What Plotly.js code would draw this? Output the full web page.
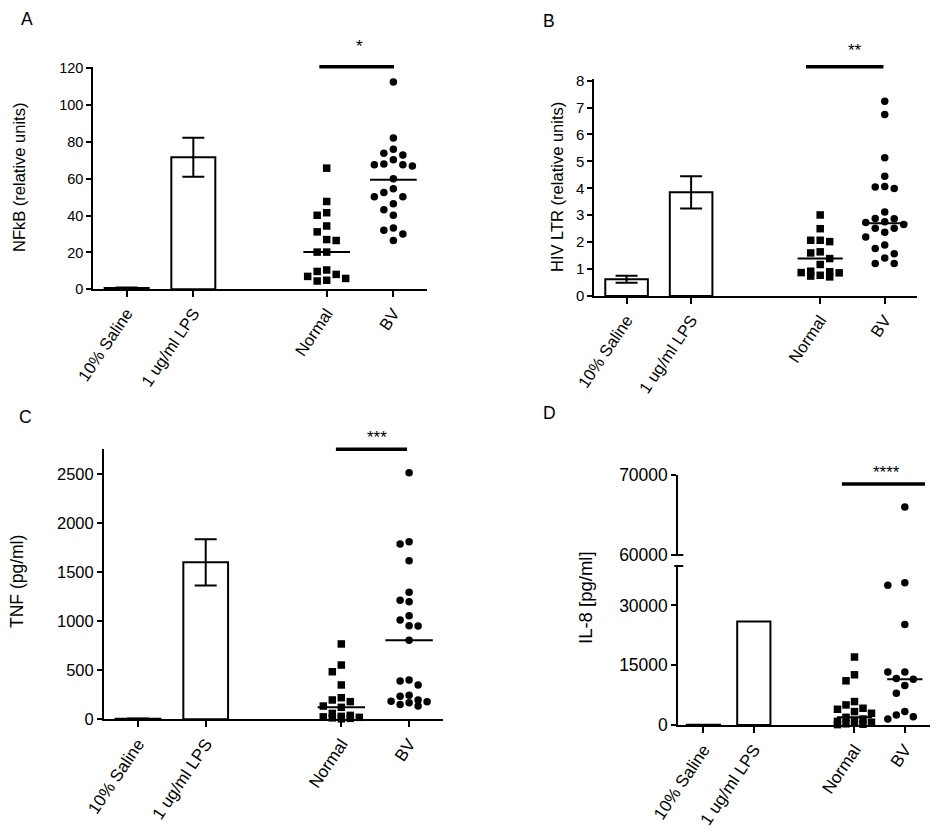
<!DOCTYPE html>
<html><head><meta charset="utf-8">
<script src="https://cdn.plot.ly/plotly-3.0.1.min.js"></script>
<style>html,body{margin:0;padding:0;background:#fff}</style>
</head><body><div id="chart" style="width:951px;height:832px"></div>
<script>
// ---------- DATA ----------
const categories = ['10% Saline', '1 ug/ml LPS', 'Normal', 'BV'];

// A: NFkB (relative units)
const nfkbBars = [0.7, 71.7];
const nfkbSem = [0.3, 10.6];
const nfkbNormal = [65.8, 47.7, 41.6, 40.2, 34.4, 31.2, 27.0, 26.5, 20.2, 20.2, 10.5, 9.7, 8.1, 7.0, 5.9, 4.9, 4.5];
const nfkbBV = [112.6, 82.2, 76.0, 73.9, 73.0, 70.3, 68.0, 67.6, 67.6, 67.0, 60.0, 54.6, 52.6, 50.3, 50.3, 46.5, 43.2, 40.2, 33.3, 32.1, 30.1, 26.5];
const nfkbMedians = [20.2, 59.5];

// B: HIV LTR (relative units)
const hivBars = [0.62, 3.85];
const hivSem = [0.13, 0.6];
const hivNormal = [3.01, 2.50, 2.07, 2.02, 2.07, 1.64, 1.60, 1.39, 1.17, 0.92, 0.90, 0.87, 0.86, 0.77, 0.74, 0.71];
const hivBV = [7.23, 6.74, 5.14, 4.45, 4.07, 4.05, 3.99, 3.12, 2.88, 2.87, 2.76, 2.73, 2.66, 2.52, 2.52, 2.37, 2.19, 1.89, 1.76, 1.57, 1.41, 1.21, 1.21];
const hivMedians = [1.39, 2.70];

// C: TNF (pg/ml)
const tnfBars = [5, 1600];
const tnfSem = [2, 235];
const tnfNormal = [768, 553, 485, 350, 220, 197, 180, 135, 122, 60, 40, 30, 25, 20, 15, 10, 5];
const tnfBV = [2514, 1810, 1787, 1617, 1295, 1213, 1199, 1056, 1012, 954, 950, 805, 401, 390, 350, 245, 235, 197, 185, 179, 169, 150, 136];
const tnfMedians = [122, 805];

// D: IL-8 [pg/ml]
const il8Bars = [50, 25960];
const il8Normal = [17060, 12600, 11090, 5880, 5040, 4200, 3950, 3360, 2940, 1930, 1500, 900, 800, 700, 300, 200, 100];
const il8BV = [66000, 35700, 35100, 25200, 13280, 13280, 11700, 11500, 9900, 7980, 3360, 2520, 2100, 1510];
const il8Medians = [1930, 11500];

const significance = ['*', '**', '***', '****'];
const panelLetters = ['A', 'B', 'C', 'D'];
const yTitles = ['NFkB (relative units)', 'HIV LTR (relative units)', 'TNF (pg/ml)', 'IL-8 [pg/ml]'];

// ---------- LAYOUT HELPERS ----------
const W = 951, H = 832;
const FONT = 'Liberation Sans, Arial, Helvetica, sans-serif';
const fx = p => p / W, fy = p => 1 - p / H;
const catPos = [0, 1, 3, 4];

// column-scatter layout: offsets limited to +-2 steps; overlap allowed when crowded
function swarm(vals, center, pxX, toPx, step, diam) {
  const order = vals.map((v, i) => i).sort((a, b) => vals[b] - vals[a]);
  const placed = [], xs = [];
  const cands = [0, -1, 1, -2, 2].map(k => k * step);
  order.forEach(i => {
    const yp = toPx(vals[i]);
    let best = null, bestD = -1;
    for (const off of cands) {
      const d = placed.length ? Math.min(...placed.map(q => Math.hypot(q.x - off, q.y - yp))) : Infinity;
      if (d >= diam) { best = off; break; }
      if (d > bestD) { bestD = d; best = off; }
    }
    placed.push({x: best, y: yp}); xs[i] = center + best / pxX;
  });
  return xs;
}

const panels = [
  {xa: 'x', ya: 'y', xPx: [93.3, 426.7], yPx: [66.7, 289.3], yRange: [0, 120.9], yTicks: [0, 20, 40, 60, 80, 100, 120],
   bars: nfkbBars, sem: nfkbSem, normal: nfkbNormal, bv: nfkbBV, med: nfkbMedians,
   tickSize: 14.5, labSize: 16.5, step: 9.5, diam: 9,
   sig: [2.89, 4.01], sigY: 66.7, star: [359, 46], letter: [27, 19], title: [19, 178], titleSize: 16.5},
  {xa: 'x2', ya: 'y2', xPx: [594.3, 917], yPx: [79.3, 296], yRange: [0, 8.05], yTicks: [0, 1, 2, 3, 4, 5, 6, 7, 8],
   bars: hivBars, sem: hivSem, normal: hivNormal, bv: hivBV, med: hivMedians,
   tickSize: 15, labSize: 16.5, step: 9.5, diam: 9,
   sig: [2.78, 3.98], sigY: 66.7, star: [855, 51], letter: [549, 21], title: [557, 187], titleSize: 16.5},
  {xa: 'x3', ya: 'y3', xPx: [104, 443], yPx: [449.3, 719.3], yRange: [0, 2752], yTicks: [0, 500, 1000, 1500, 2000, 2500],
   bars: tnfBars, sem: tnfSem, normal: tnfNormal, bv: tnfBV, med: tnfMedians,
   tickSize: 16.5, labSize: 17, step: 9, diam: 9,
   sig: [2.92, 3.97], sigY: 449.3, star: [377, 437], letter: [25, 417], title: [17, 582], titleSize: 17.5},
  {xa: 'x4', ya: 'y4', xPx: [678.3, 930], yPx: [566, 725], yRange: [0, 39900], yTicks: [0, 15000, 30000],
   bars: il8Bars, sem: null, normal: il8Normal, bv: il8BV, med: il8Medians,
   tickSize: 17.5, labSize: 17, step: 8.5, diam: 9,
   sig: [2.75, 4.40], sigY: 484, star: [886, 472], letter: [549, 413], title: [585, 598], titleSize: 18.5,
   upper: {ya: 'y5', yPx: [475, 555], yRange: [60000, 70000], yTicks: [60000, 70000]}}
];

const traces = [];
const layout = {
  width: W, height: H, autosize: false,
  margin: {l: 0, r: 0, t: 0, b: 0, pad: 0},
  paper_bgcolor: '#fff', plot_bgcolor: 'rgba(0,0,0,0)',
  showlegend: false, font: {family: FONT, color: '#000'},
  annotations: [], shapes: []
};

panels.forEach((p, pi) => {
  const xNum = p.xa === 'x' ? '' : p.xa.slice(1);
  const yNum = p.ya === 'y' ? '' : p.ya.slice(1);
  const xPxPerUnit = (p.xPx[1] - p.xPx[0]) / 5;
  const yPxPerUnit = (p.yPx[1] - p.yPx[0]) / (p.yRange[1] - p.yRange[0]);
  let toPx = v => v * yPxPerUnit;
  if (p.upper) {
    const upPer = (p.upper.yPx[1] - p.upper.yPx[0]) / (p.upper.yRange[1] - p.upper.yRange[0]);
    toPx = v => v <= p.yRange[1] ? v * yPxPerUnit : (p.yPx[1] - p.upper.yPx[1]) + (v - p.upper.yRange[0]) * upPer;
  }

  layout['xaxis' + xNum] = {
    domain: [fx(p.xPx[0]), fx(p.xPx[1])], range: [-0.5, 4.5], anchor: p.ya,
    tickmode: 'array', tickvals: catPos, ticktext: categories, tickangle: -56,
    ticks: 'outside', ticklen: 6, tickwidth: 2, tickcolor: '#000',
    showline: true, linewidth: 2, linecolor: '#000', showgrid: false, zeroline: false,
    tickfont: {family: FONT, size: p.labSize, color: '#000'}, fixedrange: true
  };
  const yax = (dom, range, ticks, anchor) => ({
    domain: dom, range: range, anchor: anchor,
    tickmode: 'array', tickvals: ticks, tickformat: 'd',
    ticks: 'outside', ticklen: 5, tickwidth: 2, tickcolor: '#000',
    showline: true, linewidth: 2, linecolor: '#000', showgrid: false, zeroline: false,
    tickfont: {family: FONT, size: p.tickSize, color: '#000'}, fixedrange: true
  });
  layout['yaxis' + yNum] = yax([fy(p.yPx[1]), fy(p.yPx[0])], p.yRange, p.yTicks, p.xa);

  // bars
  const bar = {
    type: 'bar', x: catPos.slice(0, 2), y: p.bars, xaxis: p.xa, yaxis: p.ya, width: 0.66,
    marker: {color: '#fff', line: {color: '#000', width: 2}}, hoverinfo: 'skip'
  };
  if (p.sem) bar.error_y = {type: 'data', array: p.sem, visible: true, color: '#000', thickness: 2, width: 11};
  traces.push(bar);

  // scatter groups
  const groups = [{vals: p.normal, c: catPos[2], sym: 'square'}, {vals: p.bv, c: catPos[3], sym: 'circle'}];
  groups.forEach(g => {
    const xs = swarm(g.vals, g.c, xPxPerUnit, toPx, p.step, p.diam);
    const mk = {symbol: g.sym, size: 7.5, color: '#000', line: {width: 0}};
    if (p.upper) {
      const lowI = g.vals.map((v, i) => i).filter(i => g.vals[i] <= p.yRange[1]);
      const upI = g.vals.map((v, i) => i).filter(i => g.vals[i] > p.yRange[1]);
      traces.push({type: 'scatter', mode: 'markers', x: lowI.map(i => xs[i]), y: lowI.map(i => g.vals[i]),
        xaxis: p.xa, yaxis: p.ya, marker: mk, cliponaxis: false, hoverinfo: 'y'});
      if (upI.length) traces.push({type: 'scatter', mode: 'markers', x: upI.map(i => xs[i]), y: upI.map(i => g.vals[i]),
        xaxis: p.xa, yaxis: p.upper.ya, marker: mk, cliponaxis: false, hoverinfo: 'y'});
    } else {
      traces.push({type: 'scatter', mode: 'markers', x: xs, y: g.vals, xaxis: p.xa, yaxis: p.ya,
        marker: mk, cliponaxis: false, hoverinfo: 'y'});
    }
  });
  // median lines
  p.med.forEach((m, i) => {
    const c = catPos[2 + i];
    traces.push({type: 'scatter', mode: 'lines', x: [c - 0.35, c + 0.35], y: [m, m], xaxis: p.xa, yaxis: p.ya,
      line: {color: '#000', width: 2}, cliponaxis: false, hoverinfo: 'skip'});
  });

  // upper segment (broken axis)
  if (p.upper) {
    layout['yaxis5'] = yax([fy(p.upper.yPx[1]), fy(p.upper.yPx[0])], p.upper.yRange, p.upper.yTicks, p.xa);
    [p.upper.yPx[1], p.yPx[0]].forEach(yy => {
      layout.shapes.push({type: 'line', xref: 'paper', yref: 'paper', x0: fx(p.xPx[0] - 4), x1: fx(p.xPx[0] + 5),
        y0: fy(yy), y1: fy(yy), line: {color: '#000', width: 2}});
    });
  }

  // significance bar
  layout.shapes.push({type: 'line', xref: p.xa, yref: 'paper', x0: p.sig[0], x1: p.sig[1],
    y0: fy(p.sigY), y1: fy(p.sigY), line: {color: '#000', width: 3.5}});
  layout.annotations.push({xref: 'paper', yref: 'paper', x: fx(p.star[0]), y: fy(p.star[1]), text: significance[pi],
    showarrow: false, xanchor: 'center', yanchor: 'middle', font: {family: FONT, size: 17, color: '#000'}});
  // panel letter
  layout.annotations.push({xref: 'paper', yref: 'paper', x: fx(p.letter[0]), y: fy(p.letter[1]), text: panelLetters[pi],
    showarrow: false, xanchor: 'center', yanchor: 'middle', font: {family: FONT, size: 17.5, color: '#000'}});
  // y title
  layout.annotations.push({xref: 'paper', yref: 'paper', x: fx(p.title[0]), y: fy(p.title[1]), text: yTitles[pi],
    textangle: -90, showarrow: false, xanchor: 'center', yanchor: 'middle',
    font: {family: FONT, size: p.titleSize, color: '#000'}});
});

Plotly.newPlot('chart', traces, layout, {staticPlot: true, displayModeBar: false});
</script>
</body></html>
